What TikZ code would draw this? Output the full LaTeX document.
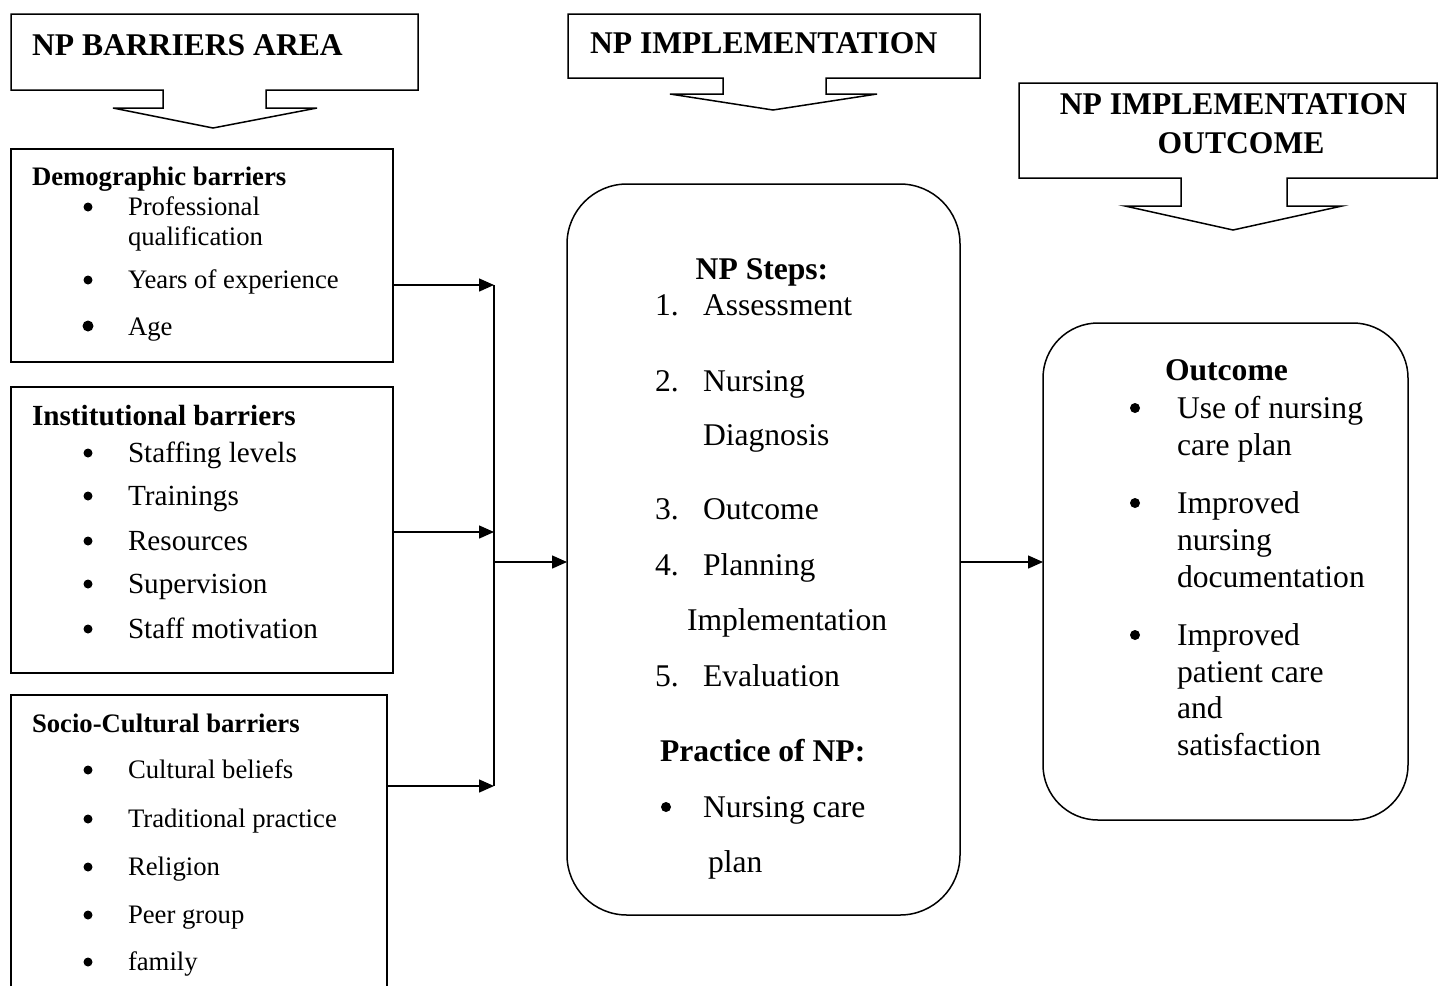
\documentclass[tikz,border=0pt]{standalone}
\usepackage{fontspec}
\setmainfont{Liberation Serif}
\usetikzlibrary{arrows.meta}
\begin{document}
\begin{tikzpicture}[x=1pt,y=-1pt,
  line width=1.5pt,
  txt/.style={anchor=base west, inner sep=0pt, outer sep=0pt},
  ctxt/.style={anchor=base, inner sep=0pt, outer sep=0pt},
  fA/.style={font=\fontsize{31.6}{38}\selectfont},
  fB/.style={font=\fontsize{29.2}{35}\selectfont},
  fC/.style={font=\fontsize{26.7}{32}\selectfont},
  sqbox/.style={draw, inner sep=0pt, outer sep=0pt},
  rbox/.style={draw, inner sep=0pt, outer sep=0pt},
  callout/.style={draw, line join=miter},
  bul/.style={circle, fill=black, draw=none, inner sep=0pt, minimum size=#1},
  bul/.default=9pt,
  arr/.style={-{Triangle[length=15pt,width=13pt]}, line width=1.5pt},
  ]
\useasboundingbox (0,0) rectangle (1439,986);
\fill[white] (0,0) rectangle (1439,986);

% ---------- callouts ----------
\draw[callout] (11,14) -- (418,14) -- (418,90) -- (266,90) -- (266,108) -- (317,108)
  -- (213,128) -- (113,108) -- (163,108) -- (163,90) -- (11,90) -- cycle;
\node[txt, fA] (t1) at (32,55) {\bfseries NP BARRIERS AREA};

\draw[callout] (568,14) -- (980,14) -- (980,78) -- (826,78) -- (826,94) -- (877,94)
  -- (773,110) -- (670,94) -- (723,94) -- (723,78) -- (568,78) -- cycle;
\node[txt, fA] (t2) at (590,53) {\bfseries NP IMPLEMENTATION};

\draw[callout] (1019,83) -- (1437,83) -- (1437,178) -- (1287,178) -- (1287,206) -- (1342,206)
  -- (1233,230) -- (1125,206) -- (1181,206) -- (1181,178) -- (1019,178) -- cycle;
\node[ctxt, fA] (t3a) at (1233.5,114) {\bfseries NP IMPLEMENTATION};
\node[ctxt, fA] (t3b) at (1241,153) {\bfseries OUTCOME};

% ---------- barrier boxes ----------
\node[sqbox, minimum width=382pt, minimum height=213pt] (demo) at (202,255.5) {};
\node[sqbox, minimum width=382pt, minimum height=286pt] (inst) at (202,530) {};
\node[inner sep=0pt, outer sep=0pt, minimum width=376pt, minimum height=291pt] (socio) at (199,840.5) {};
\draw (socio.south west) -- (socio.north west) -- (socio.north east) -- (socio.south east);

% demographic
\node[txt, fC] (d0) at (32,185) {\bfseries Demographic barriers};
\node[bul] (db1) at (88,207) {};
\node[txt, fC] (d1) at (128,215) {Professional};
\node[txt, fC] (d1b) at (128,245) {qualification};
\node[bul] (db2) at (88,280) {};
\node[txt, fC] (d2) at (128,288) {Years of experience};
\node[bul=11pt] (db3) at (88,326) {};
\node[txt, fC] (d3) at (128,335) {Age};

% institutional
\node[txt, fB] (i0) at (32,425) {\bfseries Institutional barriers};
\node[bul] (ib1) at (88,453) {};
\node[txt, fB] (i1) at (128,462) {Staffing levels};
\node[bul] (ib2) at (88,496) {};
\node[txt, fB] (i2) at (128,505) {Trainings};
\node[bul] (ib3) at (88,541) {};
\node[txt, fB] (i3) at (128,550) {Resources};
\node[bul] (ib4) at (88,584) {};
\node[txt, fB] (i4) at (128,593) {Supervision};
\node[bul] (ib5) at (88,629) {};
\node[txt, fB] (i5) at (128,638) {Staff motivation};

% socio-cultural
\node[txt, fC] (s0) at (32,732) {\bfseries Socio-Cultural barriers};
\node[bul] (sb1) at (88,770) {};
\node[txt, fC] (s1) at (128,778) {Cultural beliefs};
\node[bul] (sb2) at (88,819) {};
\node[txt, fC] (s2) at (128,827) {Traditional practice};
\node[bul] (sb3) at (88,867) {};
\node[txt, fC] (s3) at (128,875) {Religion};
\node[bul] (sb4) at (88,915) {};
\node[txt, fC] (s4) at (128,923) {Peer group};
\node[bul] (sb5) at (88,962) {};
\node[txt, fC] (s5) at (128,970) {family};

% ---------- central box ----------
\node[rbox, rounded corners=60pt, minimum width=393pt, minimum height=731pt] (steps) at (763.5,549.5) {};
\node[ctxt, fA] (c0) at (762,279) {\bfseries NP Steps:};
\node[txt, fA] (n1) at (655,315) {1.};
\node[txt, fA] (c1) at (703,315) {Assessment};
\node[txt, fA] (n2) at (655,391) {2.};
\node[txt, fA] (c2) at (703,391) {Nursing};
\node[txt, fA] (c2b) at (703,445) {Diagnosis};
\node[txt, fA] (n3) at (655,519) {3.};
\node[txt, fA] (c3) at (703,519) {Outcome};
\node[txt, fA] (n4) at (655,575) {4.};
\node[txt, fA] (c4) at (703,575) {Planning};
\node[txt, fA] (c4b) at (687,630) {Implementation};
\node[txt, fA] (n5) at (655,686) {5.};
\node[txt, fA] (c5) at (703,686) {Evaluation};
\node[txt, fA] (p0) at (660,761) {\bfseries Practice of NP:};
\node[bul=10pt] (pb1) at (666,807) {};
\node[txt, fA] (p1) at (703,817) {Nursing care};
\node[txt, fA] (p1b) at (708,872) {plan};

% ---------- outcome box ----------
\node[rbox, rounded corners=55pt, minimum width=365pt, minimum height=497pt] (outc) at (1225.5,571.5) {};
\node[txt, fA] (o0) at (1165,380) {\bfseries Outcome};
\node[bul=10pt] (ob1) at (1135,408) {};
\node[txt, fA] (o1) at (1177,418) {Use of nursing};
\node[txt, fA] (o1b) at (1177,455) {care plan};
\node[bul=10pt] (ob2) at (1135,503) {};
\node[txt, fA] (o2) at (1177,513) {Improved};
\node[txt, fA] (o2b) at (1177,550) {nursing};
\node[txt, fA] (o2c) at (1177,587) {documentation};
\node[bul=10pt] (ob3) at (1135,635) {};
\node[txt, fA] (o3) at (1177,645) {Improved};
\node[txt, fA] (o3b) at (1177,682) {patient care};
\node[txt, fA] (o3c) at (1177,718) {and};
\node[txt, fA] (o3d) at (1177,755) {satisfaction};

% ---------- connectors ----------
\coordinate (b1) at (494,285);
\coordinate (b2) at (494,532);
\coordinate (b3) at (494,786);
\coordinate (bm) at (494,562);
\draw[arr] (demo.east |- b1) -- (b1);
\draw[arr] (inst.east |- b2) -- (b2);
\draw[arr] (socio.east |- b3) -- (b3);
\draw (b1) -- (b3);
\draw[arr] (bm) -- (steps.west |- bm);
\draw[arr] (steps.east |- bm) -- (outc.west |- bm);
\end{tikzpicture}
\end{document}
